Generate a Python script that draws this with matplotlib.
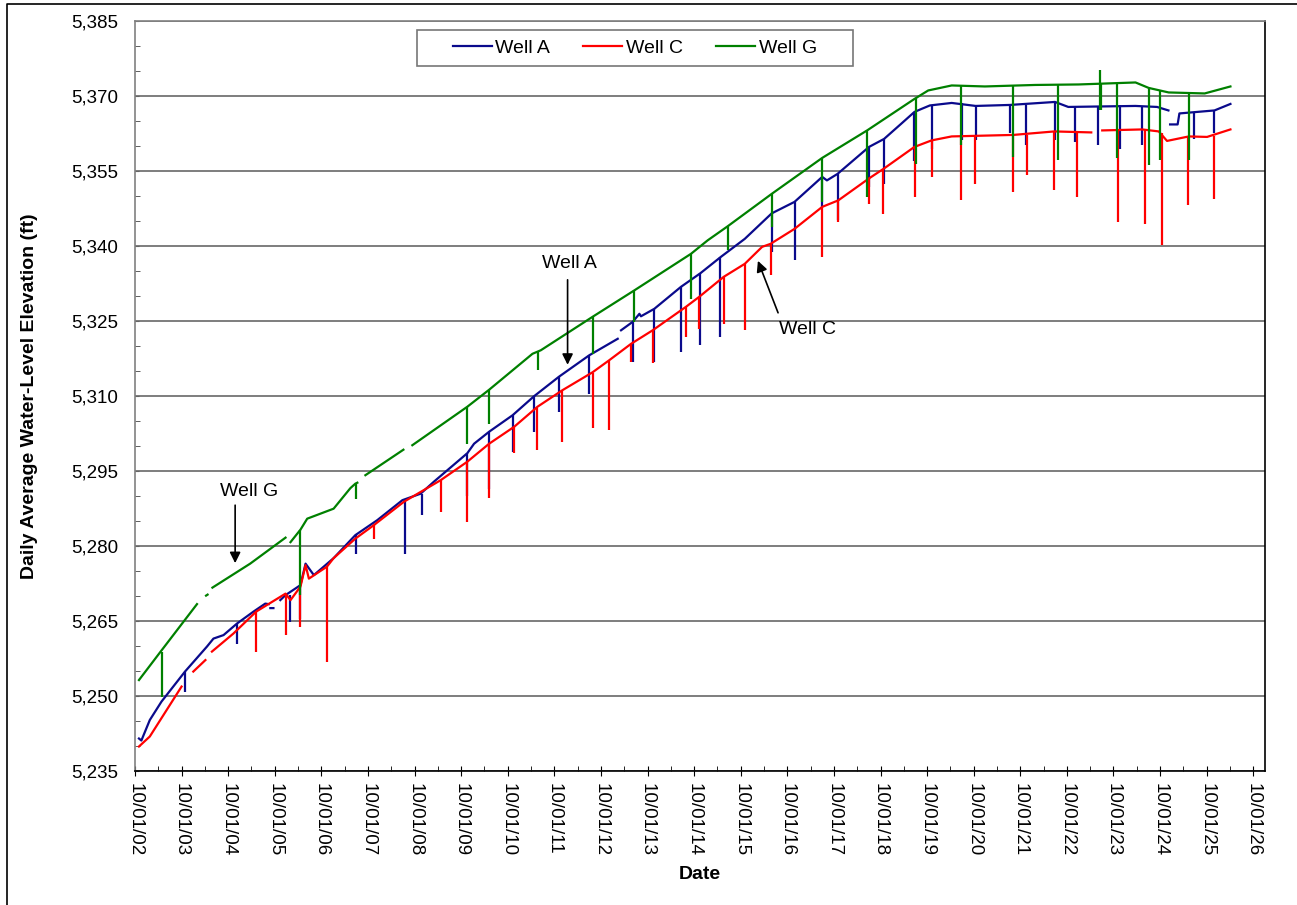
import numpy as np
import pandas as pd
import matplotlib
matplotlib.use("Agg")
import matplotlib.pyplot as plt
import matplotlib.dates as mdates
from matplotlib.ticker import MultipleLocator, StrMethodFormatter
from matplotlib.patches import Rectangle
from matplotlib.lines import Line2D

nan = np.nan

# Datos (elevacion diaria promedio, ft)

# Well A
a_dates = ["2002-11-01", "2002-11-20", "2003-01-25", "2003-04-27", "2003-10-28",
           "2004-04-17", "2004-06-07", "2004-08-25", "2004-12-08", "2005-04-17",
           "2005-07-18", "2005-08-14", "2005-08-20", "2005-08-27", "2005-09-20",
           "2005-10-10", "2005-11-13", "2005-12-24", "2006-04-20", "2006-05-30",
           "2006-08-03", "2007-01-05", "2007-06-24", "2007-12-13", "2008-06-27",
           "2008-11-17", "2009-03-01", "2009-11-18", "2010-01-10", "2010-05-08",
           "2010-11-08", "2011-04-25", "2011-11-06", "2012-07-01", "2013-02-09",
           "2013-02-20", "2013-03-07", "2013-06-07", "2013-07-29", "2013-08-10",
           "2013-11-23", "2014-06-20", "2014-11-18", "2015-04-29", "2015-11-02",
           "2016-05-31", "2016-11-26", "2017-07-01", "2017-08-07", "2017-10-29",
           "2018-07-03", "2018-10-29", "2019-03-15", "2019-06-24", "2019-08-18",
           "2019-10-23", "2020-04-11", "2020-10-16", "2021-07-11", "2022-06-30",
           "2022-10-12", "2024-03-22", "2024-09-07", "2024-12-05", "2024-12-12",
           "2024-12-18", "2025-02-15", "2025-03-01", "2025-12-01", "2026-04-05"]
a_vals = [5241.4, 5241.0, 5245.1, 5248.8, 5254.8,
          5259.8, 5261.4, 5262.1, 5264.4, 5266.8,
          5268.4, 5268.3, nan, 5267.5, 5267.5,
          nan, 5269.1, 5270.1, 5272.1, 5276.4,
          5274.1, 5277.5, 5282.1, 5285.1, 5289.1,
          5290.4, 5292.8, 5298.5, 5300.4, 5302.8,
          5306.1, 5309.9, 5313.8, 5318.1, 5321.4,
          nan, 5323.1, 5324.8, 5326.4, 5325.9,
          5327.4, 5331.8, 5334.5, 5337.8, 5341.4,
          5346.5, 5348.8, 5353.8, 5353.1, 5354.4,
          5359.8, 5361.4, 5364.5, 5366.8, 5367.4,
          5368.1, 5368.6, 5368.0, 5368.2, 5368.8,
          5367.8, 5368.0, 5367.8, 5367.1, nan,
          5364.3, 5364.3, 5366.5, 5367.1, 5368.4]
a_dip_dates = ["2003-10-31", "2004-12-08", "2006-01-28", "2006-04-20", "2007-06-26",
               "2008-07-18", "2008-11-30", "2009-11-18", "2010-05-08", "2010-11-08",
               "2011-04-25", "2011-11-06", "2012-07-01", "2013-06-07", "2013-11-23",
               "2014-06-20", "2014-11-18", "2015-04-21", "2016-05-31", "2016-11-26",
               "2017-07-01", "2017-10-29", "2018-07-03", "2018-10-29", "2019-06-22",
               "2019-11-05", "2020-06-28", "2020-10-16", "2021-07-11", "2021-11-12",
               "2022-06-30", "2022-12-03", "2023-06-01", "2023-11-24", "2024-05-13",
               "2025-06-25", "2025-11-28"]
a_dip_top = [5254.8, 5264.4, 5270.1, 5272.1, 5282.1,
             5289.1, 5290.4, 5298.5, 5302.8, 5306.1,
             5309.9, 5313.8, 5318.1, 5324.8, 5327.4,
             5331.8, 5334.5, 5337.8, 5346.5, 5348.8,
             5353.8, 5354.4, 5359.8, 5361.4, 5366.8,
             5368.1, 5368.6, 5368.0, 5368.2, 5368.2,
             5368.8, 5367.8, 5368.0, 5368.1, 5368.0,
             5366.7, 5367.0]
a_dip_low = [5250.8, 5260.4, 5264.8, 5265.4, 5278.4,
             5278.4, 5286.1, 5290.0, 5291.4, 5298.8,
             5302.8, 5306.8, 5310.4, 5316.8, 5316.8,
             5318.8, 5320.1, 5321.8, 5338.8, 5337.1,
             5347.8, 5345.1, 5351.8, 5352.4, 5357.0,
             5359.3, 5361.1, 5361.1, 5362.5, 5360.1,
             5361.1, 5360.8, 5360.2, 5359.4, 5360.1,
             5361.4, 5362.5]

# Well C
c_dates = ["2002-11-01", "2003-01-25", "2003-10-01", "2003-11-15", "2004-01-01",
           "2004-04-05", "2004-05-01", "2004-05-26", "2004-11-10", "2005-05-08",
           "2005-12-24", "2006-02-01", "2006-04-20", "2006-05-30", "2006-06-25",
           "2006-11-14", "2007-01-05", "2007-06-24", "2007-11-16", "2008-07-10",
           "2009-04-23", "2009-11-18", "2010-05-08", "2010-11-21", "2011-05-22",
           "2011-12-03", "2012-07-27", "2012-12-04", "2013-05-25", "2013-11-10",
           "2014-07-29", "2014-11-10", "2015-05-21", "2015-11-02", "2016-03-17",
           "2016-05-22", "2016-11-26", "2017-07-01", "2017-11-04", "2018-07-03",
           "2018-10-24", "2019-06-24", "2019-11-05", "2020-04-11", "2021-08-07",
           "2022-06-25", "2023-04-10", "2023-05-20", "2023-07-05", "2024-05-13",
           "2024-09-20", "2024-11-24", "2025-05-14", "2025-10-04", "2026-04-05"]
c_vals = [5239.8, 5241.8, 5251.8, nan, 5254.8,
          5257.1, nan, 5258.8, 5262.4, 5266.8,
          5270.4, 5269.1, 5271.8, 5276.1, 5273.4,
          5275.8, 5277.5, 5281.4, 5284.1, 5288.8,
          5293.1, 5296.8, 5300.4, 5303.8, 5307.8,
          5311.1, 5314.7, 5317.1, 5320.4, 5323.1,
          5327.8, 5329.8, 5333.8, 5336.4, 5339.8,
          5340.4, 5343.4, 5347.8, 5349.1, 5353.5,
          5355.4, 5359.8, 5361.1, 5361.9, 5362.2,
          5362.9, 5362.7, nan, 5363.1, 5363.3,
          5362.9, 5361.0, 5361.9, 5361.8, 5363.3]
c_dip_dates = ["2005-05-08", "2005-12-24", "2006-04-20", "2006-11-14", "2007-11-16",
               "2009-04-23", "2009-11-18", "2010-05-08", "2010-11-21", "2011-05-22",
               "2011-12-03", "2012-07-27", "2012-12-04", "2013-05-25", "2013-11-10",
               "2014-07-29", "2014-11-10", "2015-05-21", "2015-11-02", "2016-05-22",
               "2017-07-01", "2017-11-04", "2018-07-03", "2018-10-24", "2019-07-02",
               "2019-11-05", "2020-06-23", "2020-10-10", "2021-08-07", "2021-11-26",
               "2022-06-25", "2022-12-22", "2023-11-05", "2024-06-01", "2024-10-15",
               "2025-05-07", "2025-11-28"]
c_dip_top = [5266.8, 5270.4, 5271.8, 5275.8, 5284.1,
             5293.1, 5296.8, 5300.4, 5303.8, 5307.6,
             5311.0, 5314.6, 5317.0, 5320.3, 5323.1,
             5327.8, 5329.8, 5333.8, 5336.4, 5340.4,
             5347.8, 5349.1, 5353.5, 5355.4, 5360.0,
             5361.1, 5361.9, 5361.9, 5362.2, 5362.2,
             5362.9, 5362.8, 5363.2, 5363.3, 5362.5,
             5361.9, 5362.0]
c_dip_low = [5258.8, 5262.1, 5263.8, 5256.8, 5281.4,
             5286.8, 5284.8, 5289.5, 5298.6, 5299.1,
             5300.8, 5303.6, 5303.2, 5316.8, 5316.6,
             5321.8, 5323.4, 5324.4, 5323.1, 5334.1,
             5337.8, 5344.8, 5348.4, 5346.4, 5349.8,
             5353.8, 5349.1, 5352.3, 5350.8, 5354.1,
             5351.1, 5349.8, 5344.8, 5344.4, 5340.1,
             5348.1, 5349.3]

# Well G
g_dates = ["2002-11-01", "2003-04-20", "2004-01-30", "2004-03-01", "2004-04-10",
           "2004-04-22", "2004-05-10", "2004-05-30", "2005-03-22", "2005-12-24",
           "2006-01-10", "2006-02-01", "2006-04-20", "2006-06-12", "2007-01-05",
           "2007-05-16", "2007-06-24", "2007-07-10", "2007-08-10", "2007-09-11",
           "2008-07-05", "2008-08-10", "2008-09-13", "2009-11-18", "2010-05-08",
           "2011-04-13", "2011-06-17", "2012-07-27", "2013-06-20", "2014-09-06",
           "2015-01-15", "2015-06-20", "2016-05-31", "2017-07-01", "2018-06-18",
           "2019-06-24", "2019-10-10", "2020-04-11", "2020-12-27", "2022-01-25",
           "2023-01-01", "2024-03-22", "2024-07-04", "2024-12-07", "2025-09-15",
           "2026-04-05"]
g_vals = [5253.1, 5258.8, 5268.3, nan, 5270.0,
          5270.2, nan, 5271.6, 5276.4, 5281.6,
          nan, 5280.7, 5283.2, 5285.4, 5287.4,
          5291.5, 5292.4, 5292.6, nan, 5294.1,
          5299.2, nan, 5300.1, 5307.8, 5311.2,
          5318.4, 5319.1, 5325.8, 5331.1, 5338.4,
          5341.1, 5343.9, 5350.4, 5357.6, 5363.1,
          5369.4, 5371.1, 5372.1, 5371.9, 5372.2,
          5372.3, 5372.7, 5371.6, 5370.7, 5370.5,
          5371.9]
g_dip_dates = ["2003-04-27", "2006-04-20", "2007-06-26", "2009-11-18", "2010-05-08",
               "2011-05-30", "2012-07-27", "2013-06-20", "2014-09-06", "2015-06-20",
               "2016-05-31", "2017-07-01", "2018-06-18", "2019-07-10", "2020-06-23",
               "2021-08-01", "2022-07-26", "2023-06-14", "2023-06-28", "2023-10-29",
               "2024-07-04", "2024-10-03", "2025-05-18"]
g_dip_top = [5258.8, 5283.2, 5292.4, 5307.8, 5311.2,
             5318.8, 5325.8, 5331.1, 5338.4, 5343.9,
             5350.4, 5357.6, 5363.1, 5369.6, 5372.1,
             5371.9, 5372.2, 5375.1, 5372.5, 5372.5,
             5371.8, 5371.0, 5370.8]
g_dip_low = [5249.8, 5270.1, 5289.4, 5300.4, 5304.4,
             5315.1, 5318.4, 5324.8, 5329.4, 5339.1,
             5343.8, 5348.8, 5349.8, 5356.4, 5360.1,
             5357.7, 5357.1, 5367.1, 5367.1, 5357.5,
             5356.1, 5357.1, 5357.1]

# Etiquetas de flechas (fecha, elevacion)
labels_txt = ["Well A", "Well C", "Well G"]
labels_pos = [("2012-01-30", 5336.4), ("2017-03-10", 5323.2), ("2005-03-14", 5290.8)]
arrow_tail = [("2012-01-13", 5333.2), ("2016-07-20", 5326.6), ("2004-11-24", 5288.1)]
arrow_tip = [("2012-01-13", 5316.2), ("2016-02-13", 5337.0), ("2004-11-24", 5276.5)]

col_a = "#0A0A8C"
col_c = "#FF0000"
col_g = "#008000"

plt.rcParams["font.family"] = ["Liberation Sans", "DejaVu Sans"]

W, H = 1297, 905
fig = plt.figure(figsize=(W / 100, H / 100), dpi=100)
ax = fig.add_axes([135 / W, 1 - 770.5 / H, 1130 / W, 749.5 / H])

# series y caidas
series = [("Well A", a_dates, a_vals, a_dip_dates, a_dip_top, a_dip_low, col_a),
          ("Well C", c_dates, c_vals, c_dip_dates, c_dip_top, c_dip_low, col_c),
          ("Well G", g_dates, g_vals, g_dip_dates, g_dip_top, g_dip_low, col_g)]
handles = []
for name, d, v, dd, dt, dl, col in series:
    h, = ax.plot(pd.to_datetime(d), v, color=col, lw=1.6, label=name, zorder=3)
    ax.vlines(pd.to_datetime(dd), dl, dt, color=col, lw=1.6, zorder=3)
    handles.append(h)

# ejes
ax.set_ylim(5235, 5385)
ax.set_xlim(pd.Timestamp("2002-10-01"), pd.Timestamp("2027-01-01"))
ax.yaxis.set_major_locator(MultipleLocator(15))
ax.yaxis.set_minor_locator(MultipleLocator(5))
ax.yaxis.set_major_formatter(StrMethodFormatter("{x:,.0f}"))
ax.xaxis.set_major_locator(mdates.YearLocator(1, month=10, day=1))
ax.xaxis.set_minor_locator(mdates.MonthLocator(bymonth=4, bymonthday=1))
ax.xaxis.set_major_formatter(mdates.DateFormatter("%m/%d/%y"))

ax.grid(True, axis="y", which="major", color="#5a5a5a", lw=1.1, zorder=1)
ax.tick_params(axis="y", which="major", direction="in", length=3, color="#666666",
               labelsize=13.5, pad=12)
ax.tick_params(axis="y", which="minor", direction="in", length=3.5, color="#444444")
ax.tick_params(axis="x", which="major", direction="inout", length=6.5, color="black",
               labelsize=13.5, pad=5.5, labelrotation=270)
ax.tick_params(axis="x", which="minor", direction="in", length=3.6, color="black")

for s in ["top", "left"]:
    ax.spines[s].set_color("#808080")
for s in ["bottom", "right"]:
    ax.spines[s].set_color("black")
for s in ax.spines.values():
    s.set_linewidth(1.2)

ax.set_ylabel("Daily Average Water-Level Elevation (ft)", fontsize=14, fontweight="bold")
ax.yaxis.set_label_coords(-0.0858, 0.5)
ax.set_xlabel("Date", fontsize=14, fontweight="bold")
ax.xaxis.set_label_coords(0.5, -0.1274)

# flechas y textos
for txt, p, t0, t1 in zip(labels_txt, labels_pos, arrow_tail, arrow_tip):
    ax.text(pd.Timestamp(p[0]), p[1], txt, fontsize=14, ha="center", va="center")
    ax.annotate("", xy=(pd.Timestamp(t1[0]), t1[1]), xytext=(pd.Timestamp(t0[0]), t0[1]),
                arrowprops=dict(arrowstyle="-|>", color="black", lw=1.2,
                                mutation_scale=16, shrinkA=0, shrinkB=0))

# leyenda
fig.legend(handles=handles, loc="center", bbox_to_anchor=(635 / W, 1 - 48 / H),
           ncol=3, frameon=False, fontsize=14, handlelength=2.0,
           handletextpad=0.2, columnspacing=1.7)
fig.add_artist(Rectangle((417 / W, 1 - 66 / H), 436 / W, 36 / H, transform=fig.transFigure,
                         fill=False, edgecolor="#777777", lw=1.2))

# marco exterior
fig.add_artist(Line2D([7 / W, 7 / W, 1], [0, 1 - 4 / H, 1 - 4 / H],
                      transform=fig.transFigure, color="black", lw=1.2))

fig.savefig("out.png", dpi=100)
